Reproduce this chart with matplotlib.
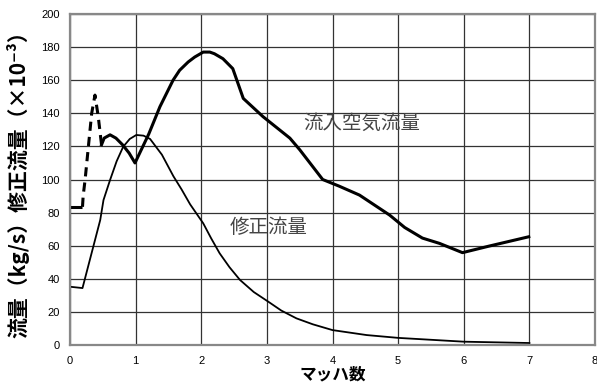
import matplotlib
matplotlib.use('Agg')
import matplotlib.pyplot as plt

plt.rcParams['font.family'] = ['Noto Sans CJK JP', 'DejaVu Sans']

# 流入空気流量 (kg/s) - solid start, dashed transient, solid main part
mach_air_start = [0.0, 0.19]
air_start = [83.5, 83.5]

mach_air_dash = [0.19, 0.20, 0.23, 0.28, 0.33, 0.38, 0.43, 0.48]
air_dash = [83.5, 90, 100, 120, 140, 151, 138, 121]

mach_air = [0.48, 0.52, 0.61, 0.70, 0.80, 0.90, 0.99, 1.20, 1.37, 1.57, 1.67,
            1.80, 1.90, 2.03, 2.13, 2.20, 2.33, 2.48, 2.64, 2.94, 3.35, 3.50,
            3.85, 4.10, 4.41, 4.87, 5.10, 5.37, 5.63, 5.98, 6.39, 6.99]
air = [121, 125, 127, 125, 121, 116, 110, 127.5, 144, 160, 166,
       171, 174, 177, 177, 176, 173, 167, 149, 138, 125, 118,
       100, 96, 90.6, 78.5, 71, 64.6, 61.4, 55.8, 59.8, 65.4]

# 修正流量 (x10^-3)
mach_corr = [0.0, 0.19, 0.46, 0.51, 0.61, 0.71, 0.81, 0.91, 1.01, 1.12, 1.22,
             1.40, 1.575, 1.70, 1.83, 2.03, 2.15, 2.28, 2.43, 2.59, 2.80, 3.02,
             3.22, 3.45, 3.70, 4.0, 4.52, 5.0, 6.0, 7.0]
corr = [35.2, 34.4, 75.5, 87.6, 99.7, 111, 119.8, 124.5, 126.9, 126.5, 124.5,
        115, 102, 94, 85, 73.5, 64.5, 55.4, 47, 39.3, 32, 26.2,
        20.8, 16.1, 12.5, 9.0, 6.0, 4.3, 2.0, 1.2]

x_ticks = list(range(0, 9))
y_ticks = list(range(0, 201, 20))

fig = plt.figure(figsize=(5.97, 3.85), dpi=100)
ax = fig.add_axes([0.1173, 0.1039, 0.8794, 0.8597])

ax.plot(mach_air_start, air_start, color='black', lw=2.2, solid_capstyle='butt')
ax.plot(mach_air_dash, air_dash, color='black', lw=2.2, linestyle=(0, (3, 2)))
ax.plot(mach_air, air, color='black', lw=2.2)
ax.plot(mach_corr, corr, color='black', lw=1.3)

ax.text(4.44, 134, '流入空気流量', fontsize=14, color='#444444',
        ha='center', va='center')
ax.text(3.03, 71, '修正流量', fontsize=14, color='#444444',
        ha='center', va='center')

ax.set_xlim(0, 8)
ax.set_ylim(0, 200)
ax.set_xticks(x_ticks)
ax.set_yticks(y_ticks)
ax.tick_params(length=0, labelsize=8, colors='black')
ax.tick_params(axis='x', pad=8)
ax.tick_params(axis='y', pad=7.5)
for lab in ax.get_xticklabels() + ax.get_yticklabels():
    lab.set_family(['Liberation Sans', 'DejaVu Sans'])

ax.grid(True, color='#333333', lw=0.9)
ax.set_axisbelow(True)
for sp in ax.spines.values():
    sp.set_color('#888888')
    sp.set_linewidth(1.6)

ax.set_xlabel('マッハ数', fontsize=12, fontweight='bold', va='center')
ax.xaxis.set_label_coords(0.5, -0.09)
ax.set_ylabel('流量（kg/s）修正流量（×10⁻³）', fontsize=15,
              fontweight='bold', va='center')
ax.yaxis.set_label_coords(-0.099, 0.5)

plt.savefig('out.png', dpi=100)
